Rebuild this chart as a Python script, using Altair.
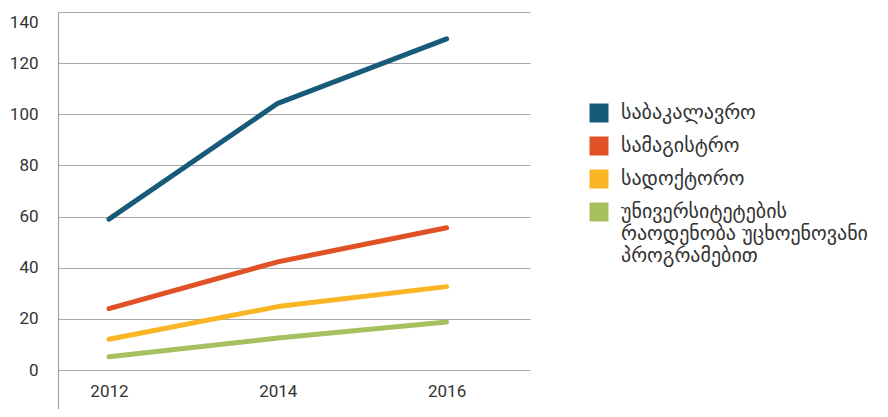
import altair as alt
import pandas as pd

years = [2012, 2014, 2016]
series = [
    "საბაკალავრო",
    "სამაგისტრო",
    "სადოქტორო",
    "უნივერსიტეტების\nრაოდენობა უცხოენოვანი\nპროგრამებით",
]
bachelor = [59, 104.3, 129.5]
master = [24, 42.3, 55.6]
doctoral = [12, 24.8, 32.6]
universities = [5.2, 12.5, 18.8]
colors = ["#175a7a", "#e05126", "#f9b523", "#a6c060"]
y_ticks = [0, 20, 40, 60, 80, 100, 120, 140]

rows = []
for name, vals in zip(series, [bachelor, master, doctoral, universities]):
    for yr, v in zip(years, vals):
        rows.append({"year": yr, "value": v, "series": name})
df = pd.DataFrame(rows)

xscale = alt.Scale(domain=[2011.396, 2016.988], nice=False, zero=False)
yscale = alt.Scale(domain=[-15.25, 140], nice=False, zero=False)
cscale = alt.Scale(domain=series, range=colors)

legend = alt.Legend(title=None, orient="none", legendX=531, legendY=91,
                    symbolType="square", symbolSize=361,
                    symbolStrokeWidth=0, symbolOpacity=1,
                    labelFontSize=20, labelFont="DejaVu Sans",
                    labelColor="#333333", labelOffset=12,
                    labelLimit=400, rowPadding=13,
                    labelExpr="split(datum.label, '\\n')")

base = alt.Chart(df)

lines = base.mark_line(strokeWidth=5, strokeCap="round", strokeJoin="round").encode(
    x=alt.X("year:Q", scale=xscale,
            axis=alt.Axis(values=years, format="d", title=None, grid=False,
                          domain=False, ticks=False, labelPadding=0, offset=-26,
                          labelFontSize=17, labelFont="Roboto", labelColor="#333333")),
    y=alt.Y("value:Q", scale=yscale,
            axis=alt.Axis(values=y_ticks, title=None, grid=True, gridColor="#a8a8a8",
                          gridWidth=1.2, domain=True, domainColor="#a0a0a0",
                          domainWidth=1.2, ticks=False, labelPadding=20,
                          labelFlush=True, labelFlushOffset=-2,
                          labelFontSize=17, labelFont="Roboto", labelColor="#333333")),
    color=alt.Color("series:N", scale=cscale, legend=legend),
    detail="series:N",
)

pts = base.mark_point(shape="square", filled=True, size=1, opacity=1).encode(
    x=alt.X("year:Q", scale=xscale),
    y=alt.Y("value:Q", scale=yscale),
    color=alt.Color("series:N", scale=cscale, legend=legend),
)

chart = alt.layer(lines, pts).properties(
    width=472, height=397,
    autosize=alt.AutoSizeParams(type="none"),
    padding={"left": 50, "top": 4, "right": 350, "bottom": 0},
).configure_view(stroke=None)

chart.save("out.html", embed_options={"renderer": "svg", "actions": False})
